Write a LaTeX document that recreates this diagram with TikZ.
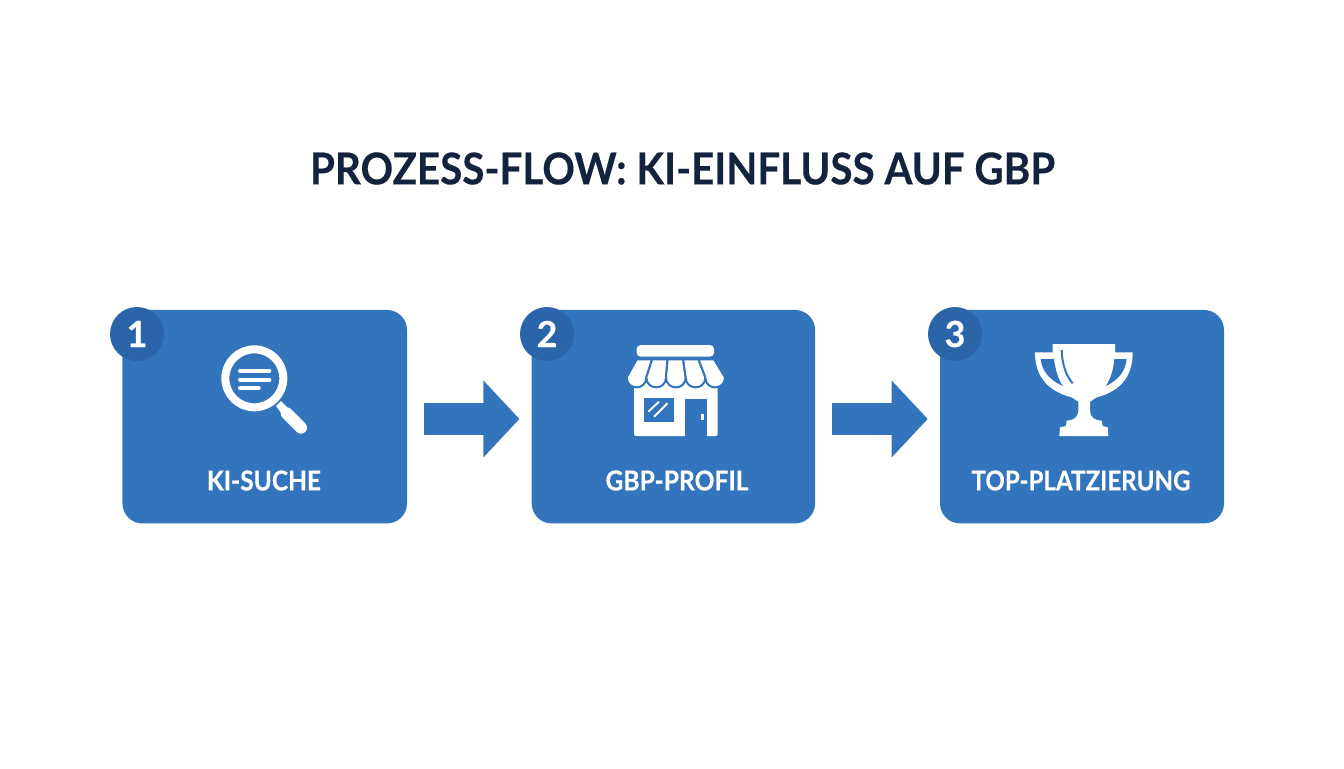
\documentclass[tikz,border=0pt]{standalone}
\usepackage{fontspec}
\setmainfont{Lato}[BoldFeatures={FakeBold=0.35}]
\usetikzlibrary{arrows.meta}
\definecolor{boxblue}{HTML}{3375BC}
\definecolor{badgeblue}{HTML}{2A65AA}
\definecolor{titleink}{HTML}{14233D}
\newcommand{\fitted}[3]{\resizebox{#1pt}{#2pt}{\bfseries #3}}
\tikzset{
  x=0.75pt, y=-0.75pt,
  stepbox/.style={rectangle, rounded corners=15pt, fill=boxblue, draw=none, inner sep=0pt, minimum height=160.1pt},
  badge/.style={circle, fill=badgeblue, draw=none, inner sep=0pt, minimum size=40.5pt, text=white, font=\fontsize{27}{27}\selectfont\bfseries},
  steplabel/.style={inner sep=0pt, text=white},
  flow/.style={draw=boxblue, line width=24pt, shorten <=12.75pt, shorten >=9pt, -{Triangle[length=27pt,width=56pt]}},
}
\begin{document}
\begin{tikzpicture}
\useasboundingbox (0,0) rectangle (1344,768);
\fill[white] (0,0) rectangle (1344,768);

\node[inner sep=0pt, text=titleink] (title) at (682.5,168.5) {\fitted{558.75}{24}{PROZESS-FLOW: KI-EINFLUSS AUF GBP}};

\node[stepbox, minimum width=213.4pt] (b1) at (264.75,416.7) {};
\node[stepbox, minimum width=212.5pt] (b2) at (673.4,416.7) {};
\node[stepbox, minimum width=213pt] (b3) at (1082,416.7) {};

\node[badge] (n1) at (137,334) {1};
\node[badge] (n2) at (547,334) {2};
\node[badge] (n3) at (955,334) {3};

\node[steplabel] (l1) at (264,480.5) {\fitted{85.5}{15}{KI-SUCHE}};
\node[steplabel] (l2) at (677,480.5) {\fitted{107.25}{15}{GBP-PROFIL}};
\node[steplabel] (l3) at (1081,480.5) {\fitted{164.25}{15}{TOP-PLATZIERUNG}};

\draw[flow] ([yshift=-1.7pt]b1.east) -- ([yshift=-1.7pt]b2.west);
\draw[flow] ([yshift=-1.7pt]b2.east) -- ([yshift=-1.7pt]b3.west);

% magnifier
\begin{scope}[shift={(100,300)},scale=1/3]
  \draw[white,line width=6pt] (463,235) circle (87);
  \fill[white] (528,318) -- (543,303) -- (575,335) -- (553,352) -- cycle;
  \draw[white,line width=9pt,line cap=round] (560,340) -- (603,383);
  \draw[white,line width=3pt,line cap=round] (420,212) -- (508,212);
  \draw[white,line width=3pt,line cap=round] (420,239) -- (508,239);
  \draw[white,line width=3pt,line cap=round] (420,265) -- (476,265);
\end{scope}

% shop
\begin{scope}[shift={(510,300)},scale=1/3]
  \fill[white,rounded corners=3pt] (380,135) rectangle (612,170);
  \fill[white,rounded corners=1.5pt] (372,240) rectangle (623,408);
  \fill[boxblue] (402,295) rectangle (493,367);
  \fill[boxblue] (525,297) rectangle (590,412);
  \fill[white] (572,342) rectangle (581,360);
  \draw[white,line width=1.4pt] (415,335) -- (447,305);
  \draw[white,line width=1.4pt] (432,350) -- (472,310);
  \foreach \i in {0,...,4}{
    \pgfmathsetmacro{\tl}{380+46.4*\i}
    \pgfmathsetmacro{\tr}{380+46.4*(\i+1)}
    \pgfmathsetmacro{\bl}{350+59*\i}
    \pgfmathsetmacro{\br}{350+59*(\i+1)}
    \filldraw[fill=white,draw=boxblue,line width=1.5pt,line join=round]
      (\tl,178) -- (\bl,232) .. controls (\bl,272) and (\br,272) .. (\br,232) -- (\tr,178) -- cycle;
  }
\end{scope}

% trophy
\begin{scope}[shift={(920,300)},scale=1/3]
  \fill[white] (398,132) -- (585,132) -- (585,157) -- (638,157)
    .. controls (638,215) and (615,270) .. (530,292) -- (510,305) -- (510,335)
    .. controls (512,352) and (525,362) .. (545,362) -- (548,378) -- (563,382) -- (565,408)
    -- (418,408) -- (420,382) -- (438,378) -- (440,362)
    .. controls (460,362) and (473,352) .. (475,335) -- (475,305) -- (455,292)
    .. controls (370,270) and (345,215) .. (345,157) -- (398,157) -- cycle;
  \fill[boxblue] (362,177) -- (402,177) .. controls (406,210) and (416,240) .. (428,258)
    .. controls (390,240) and (366,215) .. (362,177) -- cycle;
  \fill[boxblue] (620,177) -- (583,177) .. controls (580,210) and (572,235) .. (558,258)
    .. controls (595,240) and (616,215) .. (620,177) -- cycle;
  \draw[boxblue,line width=1.5pt] (425,150) .. controls (426,195) and (440,230) .. (458,250);
\end{scope}
\end{tikzpicture}
\end{document}
